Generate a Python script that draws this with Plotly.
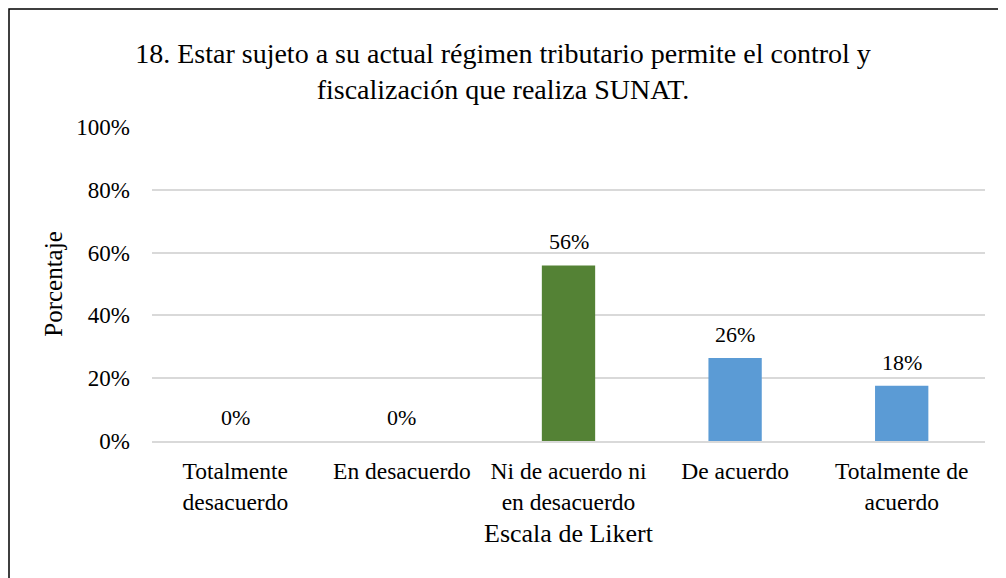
import plotly.graph_objects as go

# Escala de Likert - pregunta 18
categorias = ["Totalmente<br>desacuerdo", "En desacuerdo", "Ni de acuerdo ni<br>en desacuerdo",
              "De acuerdo", "Totalmente de<br>acuerdo"]
porcentajes = [0, 0, 55.9, 26.4, 17.6]
colores = ["#5B9BD5", "#5B9BD5", "#548235", "#5B9BD5", "#5B9BD5"]
ticks_y = [0, 20, 40, 60, 80, 100]
ticks_y_txt = ["0%", "20%", "40%", "60%", "80%", "100%"]

fuente = "Liberation Serif"

fig = go.Figure(go.Bar(
    x=categorias,
    y=porcentajes,
    marker=dict(color=colores, line=dict(width=0)),
    width=0.32,
))

# etiquetas de datos encima de cada barra
for cat, val in zip(categorias, porcentajes):
    fig.add_annotation(x=cat, y=val, text=f"{val:.0f}%", showarrow=False,
                       yanchor="bottom", yshift=9,
                       font=dict(family=fuente, size=22, color="black"))

fig.update_layout(
    width=1006, height=578,
    margin=dict(l=144, r=29, t=119, b=145),
    plot_bgcolor="white", paper_bgcolor="white",
    font=dict(family=fuente, size=22, color="black"),
    title=dict(
        text="18. Estar sujeto a su actual régimen tributario permite el control y<br>fiscalización que realiza SUNAT.",
        x=495 / 1006, xanchor="center", xref="container",
        y=1 - 54.5 / 578, yanchor="middle", yref="container",
        font=dict(family=fuente, size=28, color="black"),
    ),
    showlegend=False,
)
fig.update_yaxes(
    range=[0, 100], tickvals=ticks_y, ticktext=ticks_y_txt,
    showgrid=True, gridcolor="#D9D9D9", gridwidth=1.5,
    zeroline=False, showline=False, ticks="",
    ticklabelstandoff=21,
    tickfont=dict(family=fuente, size=23),
    title=dict(text="Porcentaje", font=dict(family=fuente, size=25), standoff=6),
)
fig.update_xaxes(
    showline=True, linecolor="#D9D9D9", linewidth=1.5, ticks="",
    ticklabelstandoff=8,
    title=dict(text="Escala de Likert", font=dict(family=fuente, size=26), standoff=10),
    tickfont=dict(family=fuente, size=23.5),
)

# marco del grafico
fig.add_shape(type="rect", xref="paper", yref="paper",
              x0=-143 / 833, x1=851 / 833, y0=-0.6, y1=432 / 314,
              line=dict(color="black", width=1.5), fillcolor="rgba(0,0,0,0)")

fig.write_html("out.html")
